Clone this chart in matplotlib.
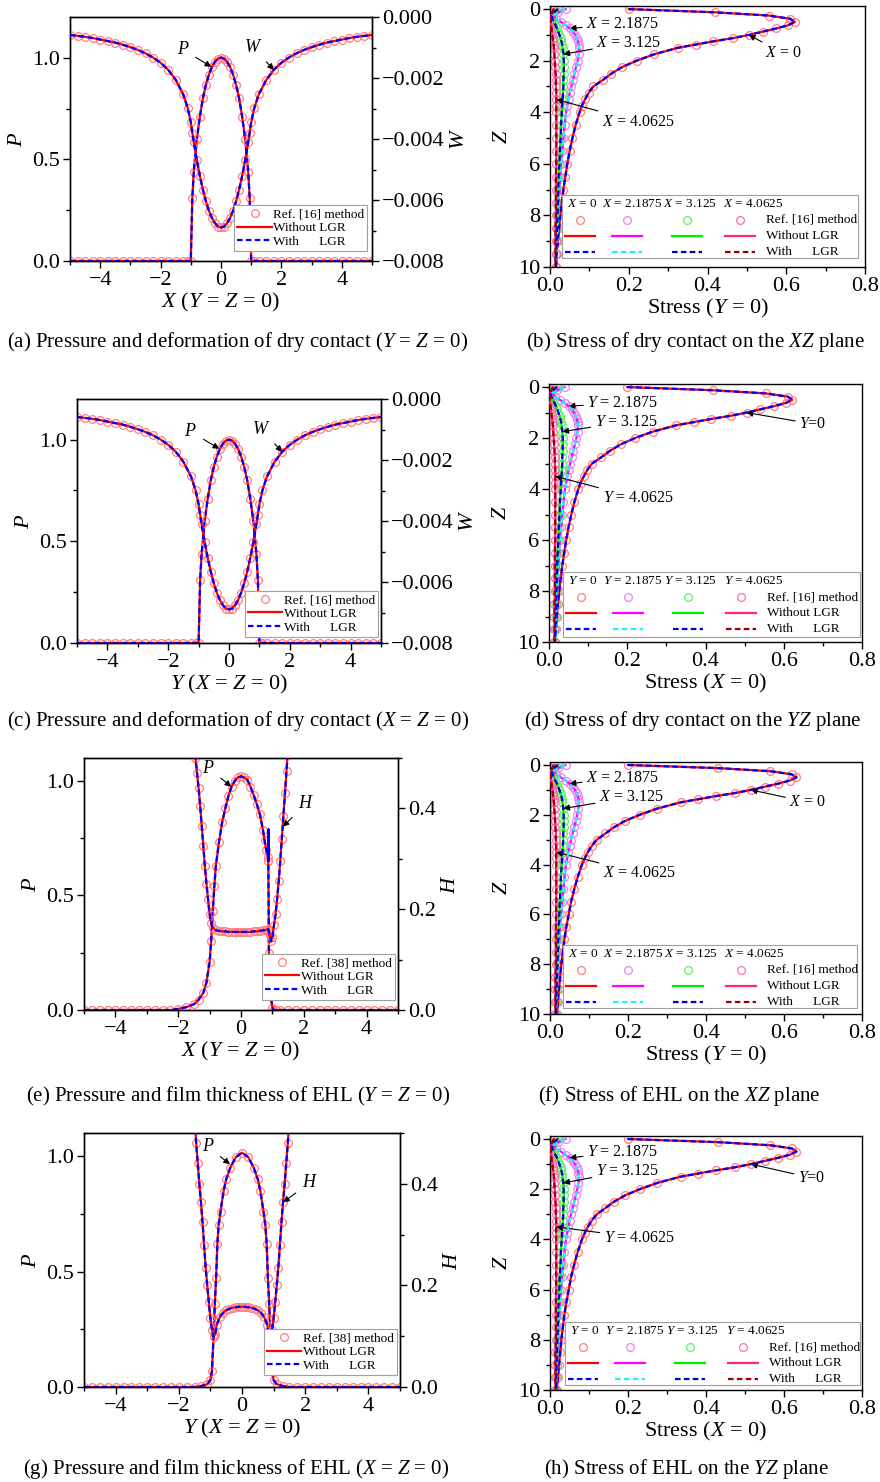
import matplotlib
matplotlib.use('Agg')
import matplotlib.pyplot as plt
from matplotlib.lines import Line2D
from matplotlib.patches import Rectangle
from matplotlib.ticker import MultipleLocator, FuncFormatter

plt.rcParams['font.family'] = ['Liberation Serif', 'DejaVu Serif']
plt.rcParams['font.size'] = 14
plt.rcParams['mathtext.fontset'] = 'custom'
plt.rcParams['mathtext.rm'] = 'Liberation Serif'
plt.rcParams['mathtext.it'] = 'Liberation Serif:italic'
plt.rcParams['axes.linewidth'] = 1.0

# ---- dry contact: pressure P and deformation W along X (and Y) ----
x_dry = [-5.0, -4.75, -4.5, -4.25, -4.0, -3.75, -3.5, -3.25, -3.0, -2.75, -2.5, -2.25,
         -2.0, -1.75, -1.5, -1.25, -1.1, -1.0, -0.95, -0.9, -0.8, -0.7, -0.6, -0.5,
         -0.4, -0.3, -0.2, -0.1, 0.0, 0.1, 0.2, 0.3, 0.4, 0.5, 0.6, 0.7, 0.8, 0.9, 0.95,
         1.0, 1.1, 1.25, 1.5, 1.75, 2.0, 2.25, 2.5, 2.75, 3.0, 3.25, 3.5, 3.75, 4.0,
         4.25, 4.5, 4.75, 5.0]
p_dry = [0.0, 0.0, 0.0, 0.0, 0.0, 0.0, 0.0, 0.0, 0.0, 0.0, 0.0, 0.0,
         0.0, 0.0, 0.0, 0.0, 0.0, 0.0, 0.31, 0.44, 0.60, 0.71, 0.80, 0.866,
         0.917, 0.954, 0.98, 0.995, 1.0, 0.995, 0.98, 0.954, 0.917, 0.866, 0.80, 0.71, 0.60, 0.44, 0.31,
         0.0, 0.0, 0.0, 0.0, 0.0, 0.0, 0.0, 0.0, 0.0, 0.0, 0.0, 0.0, 0.0, 0.0,
         0.0, 0.0, 0.0, 0.0]
w_dry = [-0.00059, -0.00062, -0.00065, -0.00069, -0.00074, -0.00079, -0.00084, -0.00091,
         -0.00099, -0.00108, -0.00119, -0.00133, -0.00150, -0.00173, -0.00206, -0.00254,
         -0.00299, -0.00345, -0.00379, -0.00411, -0.00469, -0.00521, -0.00566, -0.00604,
         -0.00635, -0.00659, -0.00676, -0.00687, -0.00690, -0.00687, -0.00676, -0.00659,
         -0.00635, -0.00604, -0.00566, -0.00521, -0.00469, -0.00411, -0.00379,
         -0.00345, -0.00299, -0.00254, -0.00206, -0.00173, -0.00150, -0.00133, -0.00119,
         -0.00108, -0.00099, -0.00091, -0.00084, -0.00079, -0.00074, -0.00069, -0.00065,
         -0.00062, -0.00059]

# ---- EHL along X: pressure and film thickness ----
x_ehl_p = [-5.0, -4.75, -4.5, -4.25, -4.0, -3.75, -3.5, -3.25, -3.0, -2.75, -2.5, -2.25,
           -2.0, -1.75, -1.5, -1.35, -1.2, -1.1, -1.0, -0.95, -0.9, -0.85, -0.8, -0.7,
           -0.6, -0.5, -0.4, -0.3, -0.2, -0.1, 0.0, 0.1, 0.2, 0.3, 0.4, 0.5, 0.6, 0.7,
           0.75, 0.8, 0.85, 0.87, 0.89, 0.92, 0.95, 1.0, 1.05, 1.1, 1.25, 1.5, 1.75, 2.0,
           2.25, 2.5, 2.75, 3.0, 3.25, 3.5, 3.75, 4.0, 4.25, 4.5, 4.75, 5.0]
p_ehl_x = [0.0, 0.0, 0.0, 0.0, 0.0, 0.0, 0.0, 0.0, 0.0, 0.0, 0.0, 0.0,
           0.005, 0.012, 0.025, 0.045, 0.075, 0.12, 0.21, 0.30, 0.43, 0.54, 0.63, 0.735,
           0.82, 0.88, 0.935, 0.975, 1.0, 1.015, 1.02, 1.015, 1.005, 0.975, 0.94, 0.90, 0.855, 0.785,
           0.74, 0.70, 0.67, 0.65, 0.25, 0.12, 0.06, 0.01, 0.0, 0.0, 0.0, 0.0, 0.0, 0.0,
           0.0, 0.0, 0.0, 0.0, 0.0, 0.0, 0.0, 0.0, 0.0, 0.0, 0.0, 0.0]
spike_x = [0.87, 0.875, 0.88]
spike_p = [0.65, 0.79, 0.66]
x_ehl_h = [-1.55, -1.5, -1.45, -1.4, -1.35, -1.3, -1.25, -1.2, -1.15, -1.1, -1.05, -1.0,
           -0.95, -0.9, -0.8, -0.7, -0.6, -0.5, -0.4, -0.3, -0.2, -0.1, 0.0, 0.1, 0.2,
           0.3, 0.4, 0.5, 0.6, 0.7, 0.8, 0.86, 0.92, 0.96, 1.0, 1.05, 1.1, 1.15, 1.2,
           1.25, 1.3, 1.35, 1.4, 1.45, 1.5, 1.55]
h_ehl_x = [0.56, 0.53, 0.50, 0.47, 0.44, 0.405, 0.365, 0.325, 0.285, 0.25, 0.22, 0.19,
           0.172, 0.163, 0.158, 0.157, 0.156, 0.156, 0.155, 0.155, 0.155, 0.155, 0.155, 0.155, 0.155,
           0.155, 0.156, 0.156, 0.157, 0.158, 0.159, 0.161, 0.148, 0.136, 0.145, 0.168, 0.19, 0.22, 0.255,
           0.295, 0.34, 0.385, 0.43, 0.475, 0.52, 0.56]

# ---- EHL along Y ----
x_ehl_py = [-5.0, -4.75, -4.5, -4.25, -4.0, -3.75, -3.5, -3.25, -3.0, -2.75, -2.5, -2.25,
            -2.0, -1.75, -1.5, -1.3, -1.1, -1.0, -0.95, -0.9, -0.88, -0.86, -0.82, -0.78,
            -0.74, -0.68, -0.58, -0.5, -0.37, -0.2, 0.0, 0.2, 0.37, 0.5, 0.58, 0.68, 0.74,
            0.78, 0.82, 0.86, 0.88, 0.9, 0.95, 1.0, 1.1, 1.3, 1.5, 1.75, 2.0, 2.25, 2.5,
            2.75, 3.0, 3.25, 3.5, 3.75, 4.0, 4.25, 4.5, 4.75, 5.0]
p_ehl_y = [0.0, 0.0, 0.0, 0.0, 0.0, 0.0, 0.0, 0.0, 0.0, 0.0, 0.0, 0.0,
           0.0, 0.0, 0.0, 0.004, 0.012, 0.03, 0.07, 0.22, 0.29, 0.36, 0.47, 0.62,
           0.70, 0.76, 0.85, 0.90, 0.95, 0.995, 1.015, 0.995, 0.95, 0.90, 0.85, 0.76, 0.70,
           0.62, 0.47, 0.36, 0.29, 0.22, 0.07, 0.03, 0.012, 0.004, 0.0, 0.0, 0.0, 0.0, 0.0,
           0.0, 0.0, 0.0, 0.0, 0.0, 0.0, 0.0, 0.0, 0.0, 0.0]
x_ehl_hy = [-1.55, -1.5, -1.45, -1.4, -1.35, -1.3, -1.25, -1.2, -1.15, -1.1, -1.05, -1.0,
            -0.95, -0.9, -0.85, -0.8, -0.7, -0.6, -0.5, -0.4, -0.3, -0.2, -0.1, 0.0,
            0.1, 0.2, 0.3, 0.4, 0.5, 0.6, 0.7, 0.8, 0.85, 0.9, 0.95, 1.0, 1.05, 1.1,
            1.15, 1.2, 1.25, 1.3, 1.35, 1.4, 1.45, 1.5, 1.55]
h_ehl_y = [0.56, 0.53, 0.48, 0.44, 0.40, 0.365, 0.325, 0.28, 0.235, 0.20, 0.167, 0.135,
           0.112, 0.098, 0.104, 0.122, 0.138, 0.146, 0.151, 0.154, 0.156, 0.157, 0.158, 0.158,
           0.158, 0.157, 0.156, 0.154, 0.151, 0.146, 0.138, 0.122, 0.104, 0.098, 0.112, 0.135, 0.167, 0.20,
           0.235, 0.28, 0.325, 0.365, 0.40, 0.44, 0.48, 0.53, 0.56]

# ---- subsurface stress vs depth Z ----
z = [0.0, 0.125, 0.25, 0.375, 0.5, 0.625, 0.75, 0.875, 1.0, 1.125, 1.25, 1.375, 1.5,
     1.75, 2.0, 2.25, 2.5, 2.75, 3.0, 3.25, 3.5, 3.75, 4.0,
     4.5, 5.0, 5.5, 6.0, 6.5, 7.0, 7.5, 8.0, 8.5, 9.0, 9.5, 10.0]
s0_dry = [0.20, 0.42, 0.555, 0.61, 0.622, 0.605, 0.575, 0.54, 0.505, 0.465, 0.415, 0.37, 0.325,
          0.265, 0.22, 0.183, 0.156, 0.134, 0.11, 0.098, 0.089, 0.081, 0.075,
          0.065, 0.057, 0.05, 0.044, 0.039, 0.034, 0.030, 0.026, 0.023, 0.020, 0.017, 0.015]
s0_ehl = [0.20, 0.43, 0.565, 0.62, 0.632, 0.615, 0.585, 0.55, 0.515, 0.475, 0.425, 0.38, 0.335,
          0.275, 0.23, 0.192, 0.164, 0.142, 0.12, 0.107, 0.097, 0.089, 0.082,
          0.071, 0.062, 0.054, 0.048, 0.042, 0.037, 0.033, 0.029, 0.026, 0.023, 0.020, 0.018]
s1 = [0.040, 0.020, 0.008, 0.015, 0.028, 0.040, 0.050, 0.058, 0.064, 0.068, 0.071, 0.073, 0.074,
      0.073, 0.070, 0.066, 0.062, 0.058, 0.054, 0.050, 0.047, 0.044, 0.041,
      0.037, 0.034, 0.031, 0.028, 0.026, 0.024, 0.022, 0.021, 0.019, 0.018, 0.017, 0.016]
s2 = [0.020, 0.010, 0.004, 0.006, 0.010, 0.014, 0.018, 0.021, 0.024, 0.027, 0.029, 0.031, 0.032,
      0.034, 0.035, 0.035, 0.035, 0.034, 0.034, 0.033, 0.032, 0.031, 0.030,
      0.028, 0.027, 0.025, 0.024, 0.022, 0.021, 0.020, 0.019, 0.018, 0.017, 0.016, 0.015]
s3 = [0.010, 0.006, 0.003, 0.002, 0.002, 0.003, 0.004, 0.005, 0.006, 0.007, 0.008, 0.009, 0.010,
      0.011, 0.012, 0.013, 0.014, 0.015, 0.015, 0.016, 0.016, 0.016, 0.016,
      0.016, 0.016, 0.016, 0.016, 0.015, 0.015, 0.015, 0.015, 0.014, 0.014, 0.014, 0.014]
positions = ['0', '2.1875', '3.125', '4.0625']

REF_C = '#ff7f7f'
# circle / solid / dashed colour for each position
stress_colors = [('#ff7f7f', '#ff0000', '#0000ff'),
                 ('#ee82ee', '#ff00ff', '#22eeff'),
                 ('#66ee66', '#00ee00', '#0000c8'),
                 ('#ff6eb4', '#ff2a6d', '#990000')]

MS = 5.6
W_PX, H_PX = 880, 1482
fig = plt.figure(figsize=(8.8, 14.82), dpi=100)


def add_ax(rect):
    l, t, w, h = rect
    return fig.add_axes([l / W_PX, 1 - (t + h) / H_PX, w / W_PX, h / H_PX])


def minus_fmt(fmt):
    def f(v, pos):
        if abs(v) < 1e-12:
            v = 0.0
        return (fmt % v).replace('-', '\u2212')
    return FuncFormatter(f)


def tick_style(ax):
    ax.tick_params(which='major', direction='out', length=5, width=1, labelsize=16, pad=2)
    ax.tick_params(which='minor', direction='out', length=3, width=1)


def three(ax, x, y, lw=1.6):
    ax.plot(x, y, 'o', mfc='none', mec=REF_C, ms=MS, mew=0.9, zorder=2)
    ax.plot(x, y, '-', color='#ff0000', lw=lw, zorder=3)
    ax.plot(x, y, '--', color='#0000ff', lw=lw, dashes=(2.5, 1.5), zorder=4)


def pressure_panel(rect, xp, p, xs, s, ylim_p, sec, xlabel, ref_label, ann, leg_anchor, spike=None):
    ax = add_ax(rect)
    ax2 = ax.twinx()
    three(ax, xp, p)
    if spike is not None:
        ax.plot(spike[0], spike[1], '-', color='#0000ff', lw=1.6, zorder=5)
    three(ax2, xs, s)
    ax.set_xlim(-5, 5)
    ax.xaxis.set_major_locator(MultipleLocator(2))
    ax.xaxis.set_minor_locator(MultipleLocator(1))
    ax.yaxis.set_major_locator(MultipleLocator(0.5))
    ax.yaxis.set_minor_locator(MultipleLocator(0.25))
    ax.yaxis.set_major_formatter(minus_fmt('%.1f'))
    ax.set_ylim(*ylim_p)
    ax2.yaxis.set_major_locator(MultipleLocator(sec['major']))
    ax2.yaxis.set_minor_locator(MultipleLocator(sec['major'] / 2))
    ax2.yaxis.set_major_formatter(minus_fmt(sec['fmt']))
    ax2.set_ylim(*sec['lim'])
    tick_style(ax)
    tick_style(ax2)
    ax.set_xlabel(xlabel, fontsize=16, labelpad=1)
    ax.set_ylabel('$P$', fontsize=16)
    ax2.set_ylabel(sec['label'], fontsize=16)
    for txt, xyt, xy in ann:
        ax2.annotate(txt, xy=xy, xytext=xyt, xycoords=ax.transData, textcoords=ax.transData,
                     fontsize=13, ha='center', va='center',
                     arrowprops=dict(arrowstyle='-|>', color='k', lw=0.8,
                                     mutation_scale=9, shrinkA=3, shrinkB=0))
    handles = [Line2D([], [], marker='o', ls='none', mfc='none', mec=REF_C, ms=MS, mew=0.9),
               Line2D([], [], color='#ff0000', lw=1.6),
               Line2D([], [], color='#0000ff', lw=1.6, ls='--', dashes=(2.5, 1.5))]
    leg = ax2.legend(handles, [ref_label, 'Without LGR', 'With      LGR'], loc='lower right',
                     bbox_to_anchor=leg_anchor, fontsize=9.5, frameon=True, fancybox=False,
                     edgecolor='#a0a0a0', framealpha=1, handlelength=2.6, handletextpad=0.1,
                     borderpad=0.25, labelspacing=0.1, borderaxespad=0)
    leg.get_frame().set_linewidth(0.8)
    return ax


def stress_panel(rect, s0, var, xlabel, ann, box):
    ax = add_ax(rect)
    curves = [s0, s1, s2, s3]
    for s, (cc, lc, dc) in zip(curves, stress_colors):
        ax.plot(s, z, 'o', mfc='none', mec=cc, ms=MS, mew=0.9, zorder=2)
        ax.plot(s, z, '-', color=lc, lw=1.6, zorder=3)
        ax.plot(s, z, '--', color=dc, lw=1.6, dashes=(2.5, 1.5), zorder=4)
    ax.set_xlim(0, 0.8)
    ax.xaxis.set_major_locator(MultipleLocator(0.2))
    ax.xaxis.set_minor_locator(MultipleLocator(0.1))
    ax.xaxis.set_major_formatter(minus_fmt('%.1f'))
    ax.yaxis.set_major_locator(MultipleLocator(2))
    ax.yaxis.set_minor_locator(MultipleLocator(1))
    ax.set_ylim(10, -0.12)
    tick_style(ax)
    ax.set_xlabel(xlabel, fontsize=16, labelpad=1)
    ax.set_ylabel('$Z$', fontsize=16)
    # annotations: (label, text pos, index of curve, index of z)
    for txt, xyt, ci, zi in ann:
        ax.annotate(txt, xy=(curves[ci][zi], z[zi]), xytext=xyt, fontsize=11.5,
                    ha='left', va='center',
                    arrowprops=dict(arrowstyle='-|>', color='k', lw=0.8,
                                    mutation_scale=9, shrinkA=1, shrinkB=0))
    # hand-built legend box
    l, t, w, h = rect
    bx0, by0, bx1, by1 = box

    def fx(px):
        return (px - l) / w

    def fy(py):
        return (t + h - py) / h
    ax.add_patch(Rectangle((fx(bx0), fy(by1)), fx(bx1) - fx(bx0), fy(by0) - fy(by1),
                           transform=ax.transAxes, facecolor='white', edgecolor='#a0a0a0',
                           lw=0.8, zorder=10))
    head_x = [5, 40, 101, 161]
    hand_x = [18, 65, 125, 178]
    kw = dict(transform=ax.transAxes, zorder=11, clip_on=False)
    for i, (cc, lc, dc) in enumerate(stress_colors):
        ax.text(fx(bx0 + head_x[i]), fy(by0 + 9), '$%s$ = %s' % (var, positions[i]),
                fontsize=9.5, ha='left', va='center', **kw)
        cx = bx0 + hand_x[i]
        ax.plot([fx(cx)], [fy(by0 + 25)], 'o', mfc='none', mec=cc, ms=MS, mew=0.9, **kw)
        ax.plot([fx(cx - 15), fx(cx + 15)], [fy(by0 + 41)] * 2, '-', color=lc, lw=1.6, **kw)
        ax.plot([fx(cx - 15), fx(cx + 15)], [fy(by0 + 57)] * 2, '--', color=dc, lw=1.6,
                dashes=(2.5, 1.5), **kw)
    for dy, lab in [(25, 'Ref. [16] method'), (41, 'Without LGR'), (57, 'With      LGR')]:
        ax.text(fx(bx0 + 204), fy(by0 + dy), lab, fontsize=9.5, ha='left', va='center', **kw)
    return ax


W_SEC = {'lim': (-0.008, 0.0), 'major': 0.002, 'fmt': '%.3f', 'label': '$W$'}
H_SEC = {'lim': (0.0, 0.5), 'major': 0.2, 'fmt': '%.1f', 'label': '$H$'}

ann_w = [('$P$', (-1.26, 1.04), (-0.32, 0.955)), ('$W$', (1.06, 1.05), (1.75, 0.94))]

pressure_panel([70, 17, 302, 244], x_dry, p_dry, x_dry, w_dry, (0, 1.2), W_SEC,
               '$X$ ($Y$ = $Z$ = 0)', 'Ref. [16] method', ann_w, (0.985, 0.04))
pressure_panel([77, 399, 304, 244], x_dry, p_dry, x_dry, w_dry, (0, 1.2), W_SEC,
               '$Y$ ($X$ = $Z$ = 0)', 'Ref. [16] method', ann_w, (0.99, 0.025))
pressure_panel([84, 758, 314, 252], x_ehl_p, p_ehl_x, x_ehl_h, h_ehl_x, (0, 1.1), H_SEC,
               '$X$ ($Y$ = $Z$ = 0)', 'Ref. [38] method',
               [('$P$', (-1.04, 1.056), (-0.31, 0.975)), ('$H$', (2.07, 0.9), (1.33, 0.8))],
               (0.99, 0.04), spike=(spike_x, spike_p))
pressure_panel([84, 1133, 316, 254], x_ehl_py, p_ehl_y, x_ehl_hy, h_ehl_y, (0, 1.1), H_SEC,
               '$Y$ ($X$ = $Z$ = 0)', 'Ref. [38] method',
               [('$P$', (-1.08, 1.04), (-0.38, 0.965)), ('$H$', (2.15, 0.885), (1.3, 0.8))],
               (0.99, 0.047))


def stress_ann(var, p1, p2, p3, p0, lab0):
    return [('$%s$ = 2.1875' % var, p1, 1, 6), ('$%s$ = 3.125' % var, p2, 2, 13),
            ('$%s$ = 4.0625' % var, p3, 3, 20), (lab0, p0, 0, 8)]


stress_panel([550, 6, 315, 261], s0_dry, 'X', 'Stress ($Y$ = 0)',
             stress_ann('X', (0.092, 0.58), (0.118, 1.3), (0.131, 4.38), (0.546, 1.72), '$X$ = 0'),
             (562, 195, 858, 258))
stress_panel([549, 384, 313, 258], s0_dry, 'Y', 'Stress ($X$ = 0)',
             stress_ann('Y', (0.098, 0.62), (0.117, 1.36), (0.137, 4.36), (0.64, 1.45), '$Y$=0'),
             (563, 572, 860, 637))
stress_panel([550, 762, 312, 252], s0_ehl, 'X', 'Stress ($Y$ = 0)',
             stress_ann('X', (0.093, 0.52), (0.126, 1.29), (0.136, 4.34), (0.614, 1.49), '$X$ = 0'),
             (563, 945, 857, 1008))
stress_panel([550, 1136, 312, 254], s0_ehl, 'Y', 'Stress ($X$ = 0)',
             stress_ann('Y', (0.095, 0.52), (0.118, 1.27), (0.138, 3.94), (0.636, 1.55), '$Y$=0'),
             (565, 1322, 860, 1385))

captions = [
    (238, 342, '(a) Pressure and deformation of dry contact ($Y$ = $Z$ = 0)'),
    (695, 342, '(b) Stress of dry contact on the $XZ$ plane'),
    (238, 721, '(c) Pressure and deformation of dry contact ($X$ = $Z$ = 0)'),
    (693, 721, '(d) Stress of dry contact on the $YZ$ plane'),
    (238, 1096, '(e) Pressure and film thickness of EHL ($Y$ = $Z$ = 0)'),
    (679, 1096, '(f) Stress of EHL on the $XZ$ plane'),
    (236, 1469, '(g) Pressure and film thickness of EHL ($X$ = $Z$ = 0)'),
    (686, 1469, '(h) Stress of EHL on the $YZ$ plane'),
]
for cx, cy, txt in captions:
    fig.text(cx / W_PX, 1 - cy / H_PX, txt, ha='center', va='center', fontsize=15)

fig.savefig('out.png', dpi=100)
